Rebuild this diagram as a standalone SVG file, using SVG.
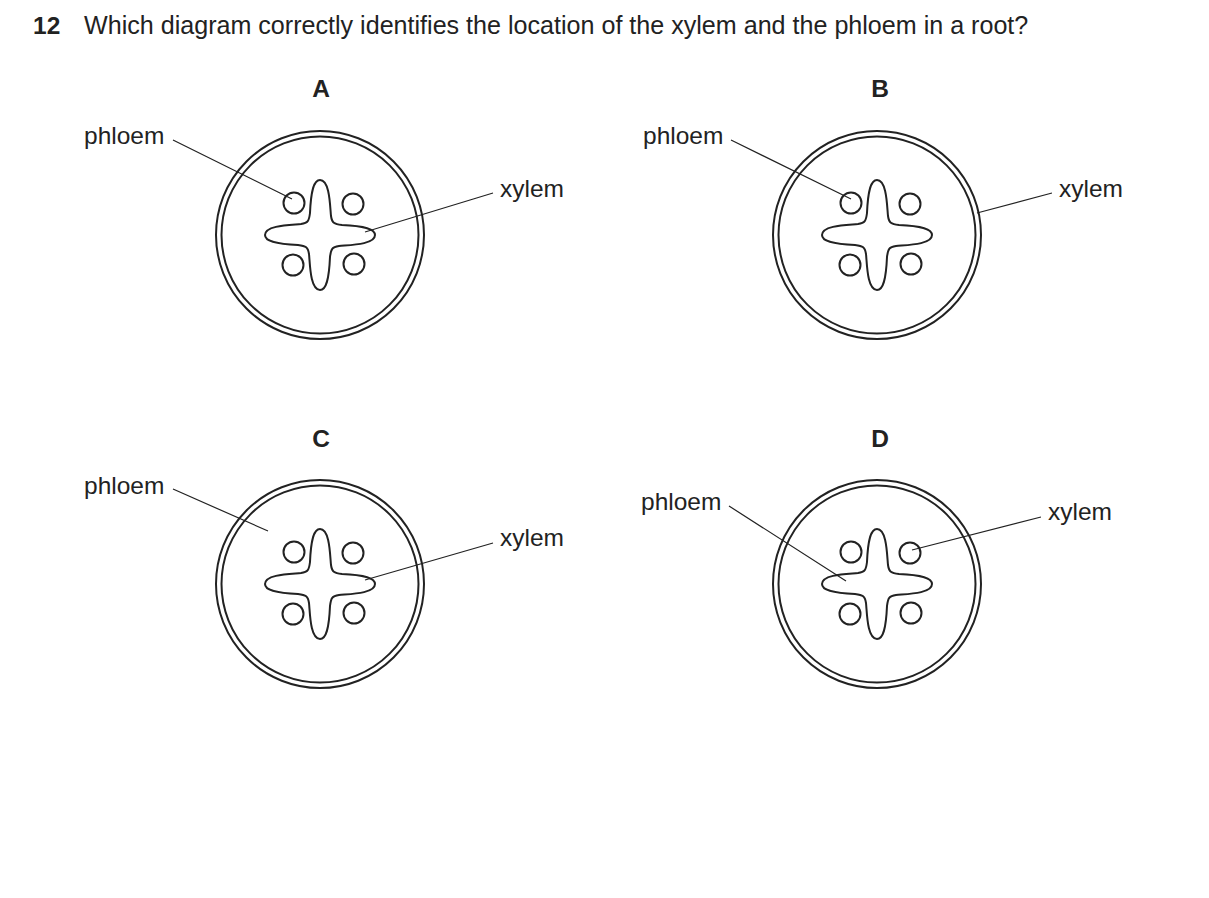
<svg xmlns="http://www.w3.org/2000/svg" width="1209" height="898" viewBox="0 0 1209 898">
<style>
text{font-family:"Liberation Sans",Arial,sans-serif;font-size:24.5px;fill:#222}
.t{font-size:25.1px}
.b{font-weight:bold}
.s{fill:none;stroke:#222;stroke-width:2}
.l{stroke:#222;stroke-width:1.2;fill:none}
</style>
<defs>
<g id="root">
<circle class="s" r="104"/>
<circle class="s" r="98.5"/>
<path class="s" d="M0,-55 C10,-55 10,-28 11,-19 C12,-12 14,-11 22,-10 C45,-9 55,-6 55,0 C55,10 28,10 19,11 C12,12 11,14 10,22 C9,45 6,55 0,55 C-10,55 -10,28 -11,19 C-12,12 -14,11 -22,10 C-45,9 -55,6 -55,0 C-55,-10 -28,-10 -19,-11 C-12,-12 -11,-14 -10,-22 C-9,-45 -6,-55 0,-55 Z"/>
<circle class="s" cx="-26" cy="-32" r="10.5"/>
<circle class="s" cx="33" cy="-31" r="10.5"/>
<circle class="s" cx="-27" cy="30" r="10.5"/>
<circle class="s" cx="34" cy="29" r="10.5"/>
</g>
</defs>
<text x="33" y="34" class="b">12</text>
<text x="84" y="34" class="t">Which diagram correctly identifies the location of the xylem and the phloem in a root?</text>
<g id="A"><text x="321" y="97" class="b" text-anchor="middle">A</text><use href="#root" x="320" y="235"/><text x="84" y="144">phloem</text><text x="500" y="197">xylem</text></g>
<g id="B"><text x="880" y="97" class="b" text-anchor="middle">B</text><use href="#root" x="877" y="235"/><text x="643" y="144">phloem</text><text x="1059" y="197">xylem</text></g>
<g id="C"><text x="321" y="447" class="b" text-anchor="middle">C</text><use href="#root" x="320" y="584"/><text x="84" y="494">phloem</text><text x="500" y="546">xylem</text></g>
<g id="D"><text x="880" y="447" class="b" text-anchor="middle">D</text><use href="#root" x="877" y="584"/><text x="641" y="510">phloem</text><text x="1048" y="520">xylem</text></g>
<g id="connectors">
<path class="l" d="M173,140 L292,199 M493,193 L365,232 M731,140 L851,199 M1052,193 L977,213 M173,489 L268,531 M493,543 L365,580 M729,506 L846,581 M1041,517 L912,550"/>
</g>
</svg>
